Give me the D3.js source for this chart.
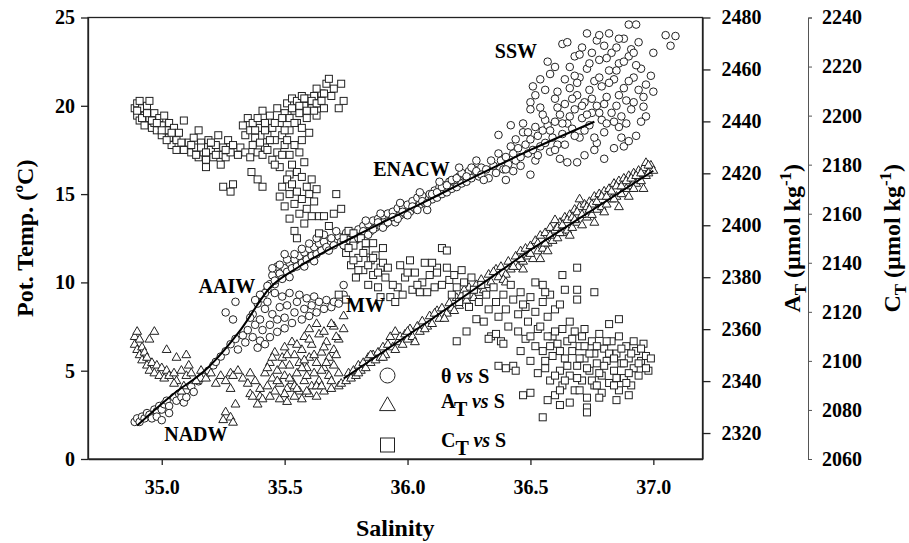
<!DOCTYPE html>
<html>
<head>
<meta charset="utf-8">
<script src="https://cdn.jsdelivr.net/npm/d3@7"></script>
<style>
body { margin: 0; background: #fff; }
text { font-family: "Liberation Serif", "Times New Roman", serif; font-weight: bold; fill: #000; }
</style>
</head>
<body>
<script>
// tick values
var salinityTicks = [35.0, 35.5, 36.0, 36.5, 37.0];
var thetaTicks = [0, 5, 10, 15, 20, 25];
var atTicks = [2320, 2340, 2360, 2380, 2400, 2420, 2440, 2460, 2480];
var ctTicks = [2060, 2080, 2100, 2120, 2140, 2160, 2180, 2200, 2220, 2240];

// theta vs S  [S, theta]
var thetaNADW = [[34.89,2.1],[34.90,2.3],[34.91,2.1],[34.92,2.4],[34.93,2.3],[34.94,2.6],[34.95,2.5],[34.96,2.3],[34.97,2.8],[34.98,2.7],[34.98,2.4],[34.99,3.0],[35.00,2.8],[35.00,2.2],[35.01,3.1],[35.02,3.3],[35.03,3.0],[35.03,2.6],[35.05,3.5],[35.06,3.3],[35.07,3.7],[35.08,3.5],[35.09,3.2],[35.10,3.9],[35.10,3.5],[35.12,4.1],[35.13,3.8],[35.15,4.4],[35.16,4.6],[35.18,4.8],[35.19,5.0],[35.21,5.3],[35.22,5.5],[35.24,5.8],[35.26,6.1],[35.28,6.5],[35.30,6.8],[35.31,6.2],[35.33,7.0],[35.34,6.6],[35.35,7.3]];
var thetaAAIW = [[35.37,6.9],[35.38,7.6],[35.37,8.2],[35.39,8.8],[35.40,6.7],[35.41,7.3],[35.40,7.9],[35.42,8.5],[35.41,9.1],[35.43,9.6],[35.44,6.9],[35.44,7.6],[35.45,8.2],[35.43,8.9],[35.46,9.4],[35.47,7.2],[35.47,7.9],[35.48,8.6],[35.46,9.9],[35.49,9.2],[35.50,7.4],[35.50,8.0],[35.51,8.7],[35.52,9.4],[35.53,7.7],[35.54,8.3],[35.55,8.9],[35.56,9.3],[35.57,7.9],[35.58,8.5],[35.59,9.1],[35.60,8.1],[35.61,8.7],[35.62,9.2],[35.63,8.3],[35.64,8.9],[35.66,8.5],[35.67,9.0],[35.69,8.6],[35.70,8.9],[35.39,6.3],[35.42,6.5],[35.26,8.3],[35.29,7.9],[35.30,8.9],[35.36,8.0],[35.74,9.85],[35.74,9.3],[35.72,8.8],[35.47,10.9]];
var thetaMid = [[35.44,9.9],[35.45,10.4],[35.46,10.1],[35.48,10.5],[35.49,10.2],[35.50,10.8],[35.51,10.6],[35.52,11.1],[35.53,10.8],[35.54,11.3],[35.55,10.9],[35.56,11.5],[35.57,11.1],[35.58,11.7],[35.59,11.3],[35.60,11.9],[35.61,11.5],[35.62,12.0],[35.63,11.6],[35.64,12.2],[35.65,11.8],[35.66,12.3],[35.67,12.0],[35.69,12.5],[35.70,12.1],[35.72,12.6],[35.73,12.3],[35.75,12.8],[35.76,12.4],[35.42,9.4],[35.43,9.8],
  [35.45,10.8],[35.48,11.0],[35.51,11.3],[35.54,11.6],[35.57,11.9],[35.60,12.2],[35.63,12.5],[35.66,12.7],[35.52,10.3],[35.58,10.9],[35.62,11.2],[35.68,11.8],[35.71,12.9],[35.74,12.1],[35.50,11.6],[35.40,9.3],[35.38,9.0]];
var thetaENACW = [[35.78,12.8],[35.79,12.4],[35.80,13.0],[35.81,12.6],[35.82,13.2],[35.83,12.8],[35.84,13.3],[35.85,12.9],[35.86,13.5],[35.87,13.1],[35.88,13.6],[35.89,13.2],[35.90,13.8],[35.91,13.3],[35.92,13.9],[35.93,13.5],[35.94,14.0],[35.95,13.4],[35.96,14.2],[35.97,13.8],[35.98,14.3],[35.99,13.9],[36.00,14.4],[36.01,14.0],[36.02,14.6],[36.03,14.2],[36.04,14.8],[36.05,14.4],[36.06,14.9],[36.07,14.5],[36.08,14.1],[36.09,15.0],[36.10,14.7],[36.11,15.2],[36.12,14.8],[36.13,15.4],[36.14,15.0],[36.15,15.5],[36.16,15.1],[36.17,15.7],[36.18,15.3],[36.19,15.8],[36.20,15.4],[36.21,16.0],[36.22,15.6],[36.23,16.1],[36.24,15.7],[36.25,16.3],[36.26,15.9],[36.27,16.4],[36.28,16.9],[36.29,16.0],[36.30,16.5],
  [35.78,12.3],[35.80,12.5],[35.82,12.9],[35.84,12.7],[35.86,13.0],[35.88,13.4],[35.90,13.1],[35.92,13.4],[35.94,13.7],[35.96,13.6],[35.98,14.0],[36.00,13.8],[36.02,14.3],[36.04,14.1],[36.06,14.6],[36.08,14.5],[36.10,15.0],[36.12,15.1],[36.14,15.4],[36.16,15.5],[36.18,15.8],[36.20,15.9],[36.22,16.2],[36.24,16.0],[36.26,16.5],[36.28,16.3],[36.30,16.1],[35.83,13.5],[35.89,13.9],[35.97,14.5],[36.05,15.1],[36.13,15.7],[36.21,16.5]];
var thetaSSW = [[36.32,16.4],[36.33,15.9],[36.35,16.6],[36.36,16.2],[36.38,16.9],[36.39,16.4],[36.40,17.1],[36.41,16.7],[36.43,17.3],[36.44,16.9],[36.45,17.6],[36.46,17.1],[36.48,17.8],[36.49,17.3],[36.50,18.1],[36.51,17.5],[36.52,16.9],[36.53,18.3],[36.54,17.7],[36.55,18.6],[36.56,17.9],[36.57,18.9],[36.58,17.4],[36.59,18.2],[36.60,19.1],[36.61,17.8],
  [36.62,19.5],[36.63,18.4],[36.64,20.1],[36.65,19.0],[36.66,21.0],[36.67,18.7],[36.68,19.8],[36.69,20.6],[36.70,18.2],[36.70,21.6],[36.71,19.3],[36.72,20.2],[36.73,22.1],[36.74,18.9],[36.74,20.9],[36.75,19.6],[36.76,21.4],[36.77,17.9],[36.77,20.0],[36.78,22.6],[36.79,19.2],[36.79,21.1],[36.80,18.5],[36.81,20.5],[36.82,22.0],[36.83,19.6],[36.83,23.0],[36.84,17.6],[36.84,21.5],[36.85,20.0],[36.86,18.8],[36.86,22.4],[36.87,19.4],[36.88,21.0],[36.89,20.3],[36.90,22.8],[36.91,19.8],[36.92,21.6],[36.93,18.3],[36.94,20.9],[36.95,22.1],[36.96,19.95],[36.97,19.4],[36.99,21.7],[37.00,20.8],[37.00,23.0],
  [36.63,23.5],[36.65,23.6],[36.57,22.5],[36.68,22.8],[36.71,23.3],[36.73,24.1],[36.75,23.0],[36.77,23.7],[36.80,23.4],[36.82,24.1],[36.85,23.3],[36.88,23.8],[36.90,24.6],[36.93,24.6],[36.91,23.2],[36.94,23.6],[37.05,24.0],[37.09,23.95],[37.07,23.4],
  [36.54,21.5],[36.51,21.1],[36.56,20.9],[36.61,20.8],[36.50,20.2],[36.50,19.8],[36.54,19.9],[36.42,18.9],[36.47,19.0],[36.37,18.35],[36.47,18.5],[36.58,21.8],[36.60,22.2],
  [36.65,16.8],[36.69,16.8],[36.88,17.7],[36.72,17.2],[36.62,17.0],[36.76,17.5],[36.80,17.0],[36.90,18.0],[36.40,15.8],[36.43,16.3],[36.50,16.1],
  [36.31,15.8],[36.34,16.9],[36.37,17.3],[36.40,16.4],[36.42,17.7],[36.44,18.1],[36.46,16.6],[36.49,18.5],[36.52,18.8],[36.53,17.2],[36.56,19.2],[36.58,18.6],[36.60,17.5],[36.61,19.9],[36.63,19.0],[36.64,17.8],[36.66,19.4],[36.67,20.4],[36.68,18.3],[36.69,21.3],[36.71,20.0],[36.72,18.6],[36.73,19.5],[36.75,20.4],[36.76,18.2],[36.78,19.6],[36.78,21.6],[36.80,20.1],[36.81,19.0],[36.82,21.3],[36.84,19.1],[36.85,22.0],[36.86,20.6],[36.87,18.2],[36.88,22.5],[36.89,19.0],[36.90,21.4],[36.92,20.2],[36.93,22.3],[36.95,19.1],[36.96,20.5],[36.97,21.2],[36.66,22.2],[36.70,22.9],[36.74,22.4],[36.78,24.0],[36.81,22.7],[36.86,23.8],[36.92,23.0],[36.60,20.4],[36.55,19.5],[36.52,20.6],[36.64,21.5],[36.68,21.7]];

// A_T vs S  [S, A_T]
var atHook = [[34.89,2357],[34.90,2359],[34.89,2354],[34.90,2352],[34.91,2356],[34.91,2350],[34.92,2353],[34.92,2348],[34.93,2351],[34.94,2346],[34.94,2349],[34.95,2344],[34.96,2347],[34.97,2343],[34.98,2346],[34.99,2342],[35.00,2345],[35.01,2341],[35.02,2344],[35.03,2342],[35.05,2343],[35.06,2340],[35.08,2344],[35.10,2342],[35.09,2338],[34.97,2359],[34.95,2356],[35.02,2352],[35.06,2349],[35.10,2350],[35.11,2346],[35.08,2336],[35.05,2339]];
var atAAIW = [[35.12,2343],[35.14,2340],[35.16,2344],[35.18,2341],[35.20,2343],[35.22,2339],[35.24,2342],[35.26,2340],[35.28,2343],[35.29,2342],[35.31,2344],[35.33,2341],[35.36,2343],[35.28,2337],[35.30,2331],[35.26,2328],[35.28,2326],[35.29,2324],[35.25,2325],[35.36,2335],[35.37,2334],[35.40,2334],[35.41,2333],[35.39,2331],
  [35.42,2343],[35.43,2338],[35.44,2347],[35.45,2341],[35.46,2351],[35.46,2336],[35.47,2344],[35.48,2339],[35.49,2349],[35.50,2342],[35.50,2353],[35.51,2337],[35.52,2346],[35.53,2340],[35.53,2355],[35.54,2350],[35.55,2343],[35.56,2336],[35.56,2347],[35.57,2352],[35.58,2340],[35.58,2357],[35.59,2345],[35.60,2349],[35.61,2338],[35.61,2354],[35.62,2343],[35.63,2347],[35.64,2358],[35.64,2340],[35.65,2351],[35.66,2345],[35.67,2355],[35.68,2342],[35.68,2349],[35.70,2352],
  [35.48,2333],[35.51,2332],[35.54,2334],[35.57,2333],[35.60,2335],[35.63,2334],[35.66,2336],[35.69,2337],[35.72,2338],
  [35.60,2360],[35.63,2362],[35.66,2359],[35.70,2361],[35.72,2356],[35.74,2365],[35.74,2360],[35.71,2357],[35.69,2362],
  [35.43,2345],[35.45,2349],[35.47,2340],[35.49,2346],[35.51,2350],[35.52,2341],[35.54,2338],[35.55,2354],[35.57,2345],[35.58,2348],[35.59,2342],[35.60,2356],[35.62,2350],[35.63,2338],[35.65,2344],[35.66,2353],[35.67,2347],[35.69,2340],[35.70,2346],[35.71,2350],[35.72,2343],[35.73,2339],[35.44,2334],[35.50,2335],[35.55,2337],[35.59,2336],[35.65,2338],[35.38,2340],[35.40,2337],[35.35,2339]];
var atLine = [[35.75,2340],[35.76,2343],[35.77,2341],[35.78,2344],[35.79,2342],[35.80,2346],[35.81,2344],[35.82,2347],[35.83,2345],[35.84,2349],[35.85,2347],[35.86,2350],[35.87,2348],[35.88,2351],[35.89,2349],[35.90,2353],[35.91,2350],[35.92,2354],[35.93,2357],[35.94,2353],[35.95,2359],[35.96,2355],[35.97,2357],[35.98,2354],[35.99,2358],[36.00,2356],[36.01,2360],[36.02,2357],[36.04,2361],[36.05,2359],[36.06,2363],[36.08,2361],[36.09,2365],[36.10,2362],[36.12,2367],[36.13,2364],[36.14,2368],[36.16,2366],[36.17,2370],[36.18,2368],[36.20,2372],[36.21,2369],[36.22,2373],[36.24,2371],[36.25,2376],[36.26,2373],[36.28,2377],[36.29,2374],[36.30,2379],[36.32,2377],[36.33,2381],[36.34,2378],[36.36,2383],[36.37,2380],[36.38,2384],[36.40,2381],[36.41,2386],[36.42,2383],[36.44,2388],[36.45,2384],[36.46,2390],[36.47,2386],[36.48,2391],[36.49,2388],[36.50,2392],[36.51,2387],[36.52,2394],[36.53,2390],[36.54,2396],[36.55,2391],[36.56,2397],[36.57,2393],[36.58,2399],[36.59,2394],[36.60,2398],[36.61,2395],[36.62,2401],[36.63,2397],[36.64,2403],[36.65,2398],[36.66,2404],[36.67,2399],[36.68,2406],[36.69,2401],[36.70,2407],[36.71,2400],[36.72,2408],[36.73,2403],[36.74,2409],[36.75,2404],[36.76,2411],[36.77,2406],[36.78,2412],[36.79,2407],[36.80,2413],[36.81,2408],[36.82,2414],[36.83,2410],[36.84,2416],[36.85,2411],[36.86,2417],[36.87,2412],[36.88,2418],[36.89,2414],[36.90,2419],[36.91,2415],[36.92,2420],[36.93,2416],[36.94,2421],[36.95,2417],[36.96,2422],[36.97,2419],[36.97,2424],[36.98,2420],[36.99,2423],[37.00,2421],
  [36.54,2387],[36.66,2396],[36.80,2405],[36.90,2411],[36.96,2414],[36.70,2410],[36.60,2402],
  [35.80,2343],[35.85,2350],[35.90,2349],[35.95,2352],[36.00,2359],[36.03,2355],[36.07,2360],[36.11,2366],[36.15,2364],[36.19,2367],[36.23,2375],[36.27,2372],[36.31,2375],[36.35,2382],[36.39,2379],[36.43,2384],[36.46,2387],[36.50,2389],[36.53,2393],[36.56,2393],[36.58,2396],[36.61,2399],[36.63,2400],[36.65,2402],[36.67,2403],[36.69,2405],[36.71,2404],[36.73,2407],[36.75,2408],[36.77,2409],[36.79,2411],[36.81,2411],[36.83,2413],[36.85,2415],[36.87,2415],[36.89,2417],[36.91,2418],[36.93,2419],[36.95,2420],[36.98,2423],[36.62,2397],[36.68,2402],[36.74,2406],[36.84,2410],[36.92,2414],[36.76,2401],[36.86,2407],[36.57,2390],[36.47,2383],[36.40,2378]];

// C_T vs S  [S, C_T]
var ctUpper = [[34.89,2203],[34.90,2205],[34.90,2200],[34.91,2206],[34.91,2198],[34.92,2203],[34.93,2200],[34.93,2196],[34.94,2204],[34.95,2206],[34.95,2199],[34.96,2195],[34.97,2201],[34.97,2197],[34.98,2194],[34.99,2199],[35.00,2196],[35.00,2192],[35.01,2200],[35.02,2194],[35.03,2197],[35.03,2191],[35.04,2188],[35.05,2195],[35.06,2190],[35.06,2186],[35.07,2193],[35.08,2189],[35.09,2186],[35.09,2198],
  [35.11,2189],[35.12,2185],[35.13,2191],[35.14,2187],[35.15,2183],[35.15,2194],[35.16,2189],[35.17,2185],[35.18,2182],[35.19,2190],[35.20,2186],[35.21,2183],[35.22,2188],[35.23,2192],[35.24,2184],[35.25,2187],[35.26,2183],[35.27,2190],[35.28,2185],[35.29,2188],[35.31,2184],[35.32,2187],
  [35.18,2179],[35.24,2180],[35.25,2171],[35.29,2172],[35.28,2169],[35.365,2177],[35.39,2174],[35.41,2171],
  [35.34,2185],[35.36,2183],[35.37,2188],[35.39,2185],[35.41,2184],[35.42,2187],
  [35.33,2196],[35.34,2192],[35.35,2199],[35.36,2194],[35.37,2197],[35.38,2191],[35.39,2199],[35.40,2195],[35.40,2189],[35.41,2202],[35.42,2197],[35.43,2192],[35.43,2186],[35.44,2200],[35.45,2195],[35.45,2182],[35.46,2190],[35.47,2203],[35.47,2185],[35.48,2197],[35.48,2179],[35.49,2192],[35.50,2188],[35.50,2201],
  [35.51,2205],[35.52,2199],[35.52,2194],[35.53,2207],[35.54,2202],[35.55,2197],[35.55,2206],[35.56,2201],[35.57,2208],[35.57,2195],[35.58,2204],[35.59,2199],[35.60,2207],[35.60,2193],[35.61,2203],[35.62,2208],[35.63,2200],[35.64,2205],[35.65,2209],[35.66,2203],
  [35.51,2190],[35.52,2184],[35.53,2180],[35.54,2188],[35.55,2177],[35.56,2185],[35.57,2190],[35.58,2181],
  [35.63,2211],[35.66,2209],[35.67,2213],[35.68,2215],[35.70,2211],[35.73,2213],[35.72,2203],[35.74,2206],[35.69,2208],
  [34.90,2202],[34.92,2199],[34.94,2201],[34.96,2198],[34.98,2197],[35.00,2194],[35.02,2190],[35.04,2193],[35.12,2188],[35.14,2184],[35.16,2187],[35.18,2185],[35.20,2189],[35.22,2184],[35.26,2186],[35.38,2194],[35.42,2194],[35.44,2190],[35.46,2197],[35.49,2199],[35.50,2194],[35.53,2203],[35.54,2197],[35.56,2204],[35.58,2207],[35.59,2202],[35.61,2206],[35.62,2202],[35.63,2205],[35.65,2206],[35.49,2184],[35.52,2176],[35.46,2180]];
var ctArm = [[35.48,2167],[35.49,2171],[35.50,2163],[35.51,2174],[35.52,2168],[35.52,2158],[35.53,2172],[35.54,2164],[35.54,2153],[35.55,2169],[35.55,2150],[35.56,2160],[35.57,2175],[35.57,2166],[35.58,2156],[35.59,2171],[35.59,2162],[35.60,2168],[35.61,2174],[35.61,2159],[35.62,2165],[35.63,2170],[35.64,2159],[35.64,2152],[35.66,2159],[35.71,2168],[35.73,2162],[35.70,2160],[35.68,2155]];
var ctMW = [[35.74,2150],[35.75,2144],[35.76,2153],[35.77,2139],[35.78,2147],[35.79,2134],[35.80,2142],[35.81,2150],[35.82,2137],[35.83,2145],[35.84,2131],[35.85,2141],[35.86,2148],[35.86,2135],[35.87,2143],[35.88,2130],[35.89,2138],[35.89,2126],[35.90,2146],[35.91,2134],[35.93,2126],[35.95,2124],[35.96,2130],[35.72,2127],[35.75,2125],[35.97,2139],[35.99,2134],[36.01,2141],[36.02,2129],[36.03,2136],[36.05,2128],[36.06,2132],[36.07,2140],[36.09,2135],[36.11,2130],[36.14,2146],[36.16,2145],[36.12,2138],
  [35.76,2146],[35.78,2141],[35.80,2137],[35.82,2144],[35.84,2139],[35.86,2142],[35.88,2136],[35.90,2140],[35.92,2138],[35.94,2131],[36.00,2136],[36.04,2131],[36.08,2128],[35.98,2127],[35.78,2152],[35.83,2148]];
var ctLower = [[36.10,2140],[36.12,2136],[36.14,2131],[36.16,2138],[36.17,2133],[36.18,2127],[36.19,2135],[36.20,2130],[36.21,2124],[36.22,2137],[36.23,2132],[36.24,2127],[36.25,2122],[36.26,2134],[36.27,2129],[36.28,2117],[36.29,2124],[36.30,2131],[36.31,2116],[36.32,2127],[36.33,2121],[36.34,2110],[36.35,2130],[36.36,2124],[36.37,2118],[36.38,2108],[36.39,2127],[36.40,2121],[36.41,2114],[36.42,2131],[36.20,2108],[36.24,2112],
  [36.43,2125],[36.45,2119],[36.46,2128],[36.48,2122],[36.49,2116],[36.50,2126],[36.52,2132],[36.52,2120],[36.53,2113],[36.55,2131],[36.55,2124],[36.57,2118],[36.58,2127],[36.59,2110],[36.60,2121],[36.63,2135],[36.69,2138],[36.64,2129],[36.69,2129],[36.76,2128],[36.69,2125],[36.82,2115],[36.86,2117],
  [36.55,2104],[36.56,2097],[36.57,2110],[36.58,2092],[36.59,2102],[36.60,2086],[36.61,2107],[36.62,2096],[36.63,2113],[36.63,2090],[36.64,2101],[36.65,2108],[36.66,2094],[36.67,2104],[36.68,2088],[36.68,2112],[36.69,2098],[36.70,2106],[36.71,2092],[36.72,2101],[36.72,2113],[36.73,2085],[36.74,2096],[36.75,2108],[36.76,2090],[36.76,2103],[36.77,2099],[36.78,2111],[36.79,2087],[36.79,2094],[36.80,2105],[36.81,2100],[36.82,2091],[36.83,2108],[36.84,2096],[36.85,2103],[36.86,2088],[36.86,2110],[36.87,2099],[36.88,2093],[36.89,2106],[36.90,2101],[36.91,2090],[36.92,2097],[36.93,2104],[36.94,2094],[36.95,2100],[36.96,2107],[36.97,2102],[36.99,2101],[36.98,2096],
  [36.57,2084],[36.62,2082],[36.73,2081],[36.73,2079],[36.66,2083],[36.78,2085],[36.85,2084],[36.90,2086],[36.55,2077],[36.47,2086],[36.50,2087],
  [36.37,2098],[36.40,2097],[36.43,2098],[36.44,2096],[36.46,2104],[36.48,2109],[36.50,2100],[36.52,2106],[36.53,2095],[36.33,2109],[36.36,2111],[36.39,2107],
  [36.56,2100],[36.58,2106],[36.60,2094],[36.62,2104],[36.64,2092],[36.65,2098],[36.67,2109],[36.69,2093],[36.70,2101],[36.71,2110],[36.73,2097],[36.74,2103],[36.75,2092],[36.77,2106],[36.78,2095],[36.80,2098],[36.81,2108],[36.82,2103],[36.84,2101],[36.85,2093],[36.87,2105],[36.88,2099],[36.89,2091],[36.91,2103],[36.92,2108],[36.94,2099],[36.95,2105],[36.97,2097],[36.60,2112],[36.66,2116],[36.72,2106],[36.62,2088],[36.70,2088],[36.77,2090],[36.84,2090],[36.90,2095],[36.45,2112],[36.50,2110],[36.54,2114],[36.47,2123],[36.62,2123],[36.56,2128]];

// fitted lines
var thetaFitS = [34.90, 35.04, 35.19, 35.32, 35.44, 35.56, 35.77, 36.09, 36.29, 36.50, 36.76];
var thetaFitT = [1.9, 3.6, 5.2, 7.3, 9.7, 10.9, 12.5, 14.7, 16.1, 17.5, 19.1];
var atFitS = [35.74, 36.10, 36.50, 37.00];
var atFitA = [2341, 2364, 2390.5, 2421];

var thetaPts = thetaNADW.concat(thetaAAIW, thetaMid, thetaENACW, thetaSSW);
var atPts = atHook.concat(atAAIW, atLine);
var ctPts = ctUpper.concat(ctArm, ctMW, ctLower);

var W = 909, H = 543;
var plotL = 88, plotR = 702.5, plotT = 17.5, plotB = 459;

var svg = d3.select("body").append("svg")
    .attr("width", W)
    .attr("height", H);

var x = d3.scaleLinear().domain([34.7, 37.2]).range([plotL, plotR]);
var yT = d3.scaleLinear().domain([0, 25]).range([plotB, plotT]);
var yA = d3.scaleLinear().domain([2310, 2480]).range([plotB, plotT]);
var yC = d3.scaleLinear().domain([2060, 2240]).range([plotB, plotT]);

var stroke = "#222";

// markers
svg.append("g").selectAll("circle")
    .data(thetaPts)
    .enter().append("circle")
    .attr("cx", function(d){ return x(d[0]); })
    .attr("cy", function(d){ return yT(d[1]); })
    .attr("r", 3.8)
    .attr("fill", "#fff")
    .attr("stroke", stroke)
    .attr("stroke-width", 1);

var tri = d3.symbol().type(d3.symbolTriangle).size(34);
svg.append("g").selectAll("path")
    .data(atPts)
    .enter().append("path")
    .attr("d", tri)
    .attr("transform", function(d){ return "translate(" + x(d[0]) + "," + yA(d[1]) + ")"; })
    .attr("fill", "#fff")
    .attr("stroke", stroke)
    .attr("stroke-width", 1);

svg.append("g").selectAll("rect")
    .data(ctPts)
    .enter().append("rect")
    .attr("x", function(d){ return x(d[0]) - 3.5; })
    .attr("y", function(d){ return yC(d[1]) - 3.5; })
    .attr("width", 7)
    .attr("height", 7)
    .attr("fill", "#fff")
    .attr("stroke", stroke)
    .attr("stroke-width", 1);

// fitted lines
var thetaLine = d3.line()
    .x(function(d, i){ return x(thetaFitS[i]); })
    .y(function(d, i){ return yT(thetaFitT[i]); })
    .curve(d3.curveMonotoneX);
svg.append("path")
    .attr("d", thetaLine(thetaFitS))
    .attr("fill", "none")
    .attr("stroke", "#000")
    .attr("stroke-width", 2);

var atLineGen = d3.line()
    .x(function(d, i){ return x(atFitS[i]); })
    .y(function(d, i){ return yA(atFitA[i]); });
svg.append("path")
    .attr("d", atLineGen(atFitS))
    .attr("fill", "none")
    .attr("stroke", "#000")
    .attr("stroke-width", 2);

// frame
svg.append("rect")
    .attr("x", plotL).attr("y", plotT)
    .attr("width", plotR - plotL).attr("height", plotB - plotT)
    .attr("fill", "none")
    .attr("stroke", "#222")
    .attr("stroke-width", 1.3);

// axes
function styleAxis(g, size) {
    g.selectAll("text").style("font-size", size + "px").attr("fill", "#000");
    g.selectAll("line").attr("stroke", "#222").attr("stroke-width", 1.3);
    g.select(".domain").attr("stroke", "#222").attr("stroke-width", 1.3);
}

var gx = svg.append("g")
    .attr("transform", "translate(0," + plotB + ")")
    .call(d3.axisBottom(x).tickValues(salinityTicks).tickFormat(d3.format(".1f"))
        .tickSizeInner(6).tickSizeOuter(0).tickPadding(15));
styleAxis(gx, 20);

var gy = svg.append("g")
    .attr("transform", "translate(" + plotL + ",0)")
    .call(d3.axisLeft(yT).tickValues(thetaTicks).tickFormat(d3.format("d"))
        .tickSizeInner(7).tickSizeOuter(0).tickPadding(6));
styleAxis(gy, 20);

var ga = svg.append("g")
    .attr("transform", "translate(" + plotR + ",0)")
    .call(d3.axisRight(yA).tickValues(atTicks).tickFormat(d3.format("d"))
        .tickSizeInner(8).tickSizeOuter(0).tickPadding(11));
styleAxis(ga, 20);

var gc = svg.append("g")
    .attr("transform", "translate(808,0)")
    .call(d3.axisRight(yC).tickValues(ctTicks).tickFormat(d3.format("d"))
        .tickSizeInner(4).tickSizeOuter(4).tickPadding(10));
styleAxis(gc, 20);
gc.selectAll("line").attr("stroke", "#555").attr("stroke-width", 1);
gc.select(".domain").attr("stroke", "#555").attr("stroke-width", 1);

// axis titles
svg.append("text")
    .attr("transform", "translate(33," + ((plotT + plotB) / 2) + ") rotate(-90)")
    .attr("text-anchor", "middle")
    .style("font-size", "24px")
    .text("Pot. Temp. (\u00baC)");

svg.append("text")
    .attr("x", (plotL + plotR) / 2)
    .attr("y", 536)
    .attr("text-anchor", "middle")
    .style("font-size", "24px")
    .text("Salinity");

function unitTitle(cx, letter) {
    var t = svg.append("text")
        .attr("transform", "translate(" + cx + "," + ((plotT + plotB) / 2) + ") rotate(-90)")
        .attr("text-anchor", "middle")
        .style("font-size", "24px");
    t.append("tspan").text(letter);
    t.append("tspan").attr("dy", 6).style("font-size", "17px").text("T");
    t.append("tspan").attr("dy", -6).text(" (\u00b5mol kg");
    t.append("tspan").attr("dy", -9).style("font-size", "17px").text("-1");
    t.append("tspan").attr("dy", 9).text(")");
}
unitTitle(800, "A");
unitTitle(900, "C");

// water mass labels  [name, S, theta] at the text's left baseline
var waterLabels = [["SSW", 36.355, 22.7], ["ENACW", 35.86, 16.0], ["AAIW", 35.15, 9.4], ["MW", 35.75, 8.3], ["NADW", 35.01, 1.03]];
svg.append("g").selectAll("text")
    .data(waterLabels)
    .enter().append("text")
    .attr("x", function(d){ return x(d[1]); })
    .attr("y", function(d){ return yT(d[2]); })
    .style("font-size", "20px")
    .text(function(d){ return d[0]; });

// legend
var lx = 387.5;
svg.append("circle").attr("cx", lx).attr("cy", 375.5).attr("r", 7.5)
    .attr("fill", "#fff").attr("stroke", stroke).attr("stroke-width", 1);
svg.append("path")
    .attr("d", d3.symbol().type(d3.symbolTriangle).size(110)())
    .attr("transform", "translate(" + lx + ",406)")
    .attr("fill", "#fff").attr("stroke", stroke).attr("stroke-width", 1);
svg.append("rect").attr("x", lx - 7).attr("y", 438).attr("width", 14).attr("height", 14)
    .attr("fill", "#fff").attr("stroke", stroke).attr("stroke-width", 1);

function legendText(yy, main, sub) {
    var t = svg.append("text").attr("x", 441).attr("y", yy).style("font-size", "20px");
    t.append("tspan").text(main);
    if (sub) t.append("tspan").attr("dy", 8).text(sub);
    t.append("tspan").attr("dy", sub ? -8 : 0).text(" ");
    t.append("tspan").style("font-style", "italic").text("vs");
    t.append("tspan").text(" S");
}
legendText(383, "\u03b8", null);
legendText(408, "A", "T");
legendText(446.5, "C", "T");
</script>
</body>
</html>
